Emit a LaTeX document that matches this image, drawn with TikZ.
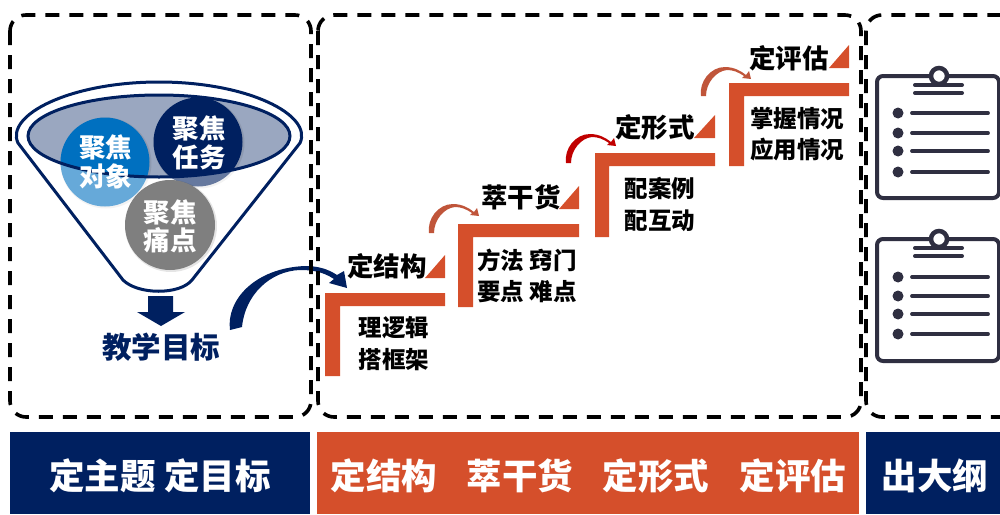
\documentclass[tikz,border=0pt]{standalone}
\usepackage{fontspec}
\setmainfont{Noto Sans CJK SC}
\definecolor{navy}{HTML}{002060}
\definecolor{rust}{HTML}{D54F2B}
\definecolor{slateink}{HTML}{2F2F41}
\definecolor{pool}{HTML}{9AA7C0}
\definecolor{skyblue}{HTML}{0070C0}
\definecolor{midgrey}{HTML}{7F7F7F}
\definecolor{softrust}{HTML}{C0553A}
\definecolor{deepred}{HTML}{C00000}
\tikzset{
  dashbox/.style={draw=black,line width=3.6pt,dash pattern=on 14pt off 10pt,rounded corners=16pt},
  bar/.style={fill=#1,draw=none},
  txt/.style={inner sep=0pt,font=\bfseries\fontsize{#1}{#1}\selectfont},
  stepcap/.style={txt=26.5,text=black},
  stepnote/.style={txt=23.5,text=black},
  bandtxt/.style={txt=35.5,text=white},
  circtxt/.style={txt=26.5,text=white},
  stair/.style={fill=rust,draw=none},
  turnarrow/.pic={
    \fill[#1] (-3,0) .. controls (-5,-14) and (6,-29) .. (21,-29)
      .. controls (30,-29) and (37,-25) .. (42,-21) -- (45,-25) -- (47,-17) -- (38,-18) -- (40,-20)
      .. controls (34,-24) and (29,-26) .. (23,-26) .. controls (12,-25) and (2,-13) .. (2,0) -- cycle;
  },
  clipboard/.pic={
    \draw[slateink,line width=4pt,rounded corners=6pt,fill=white] (0,0) rectangle (122,122);
    \draw[slateink,line width=4.5pt,fill=white] (62,0) circle (8);
    \draw[slateink,line width=4pt,line cap=round] (38,9) -- (85,9) (38,17) -- (85,17);
    \foreach \yy in {#1}{
      \fill[slateink] (21,\yy) circle (5.5);
      \draw[slateink,line width=3.8pt,line cap=round] (35,\yy) -- (111,\yy);
    }
  }
}
\begin{document}
\begin{tikzpicture}[x=1pt,y=-1pt]
\useasboundingbox (0,0) rectangle (1000,514);
\clip (0,0) rectangle (1000,514);
% funnel contents
\fill[pool] (159,136) ellipse (131 and 41);
\fill[black,opacity=.08] (106,163) circle (45.5);
\fill[skyblue] (105,162) circle (44.5);
\fill[black,opacity=.08] (199,143) circle (45.5);
\fill[navy] (198,142) circle (44.5);
\fill[white,opacity=.4,even odd rule]
  (18,143) .. controls (5,115) and (70,82) .. (159,82) .. controls (248,82) and (313,115) .. (300,143)
  -- (192,280) .. controls (180,295) and (138,295) .. (123,280) -- cycle
  (159,136) ellipse (131 and 41);
\draw[navy,line width=3pt] (159,136) ellipse (131 and 41);
\draw[navy,line width=3pt,line join=round]
  (18,143) .. controls (5,115) and (70,82) .. (159,82) .. controls (248,82) and (313,115) .. (300,143)
  -- (192,280) .. controls (180,295) and (138,295) .. (123,280) -- cycle;
\fill[black,opacity=.1] (171,226) circle (46);
\fill[midgrey] (170,225) circle (45);
\node[circtxt] (a1) at (105.5,147) {聚焦};
\node[circtxt] (a2) at (105.5,176) {对象};
\node[circtxt] (b1) at (199,128) {聚焦};
\node[circtxt] (b2) at (199,157) {任务};
\node[circtxt] (c1) at (170,212) {聚焦};
\node[circtxt] (c2) at (170,240) {痛点};
% down arrow
\fill[navy] (148,296) -- (173,296) -- (173,312) -- (185,312) -- (161,326) -- (137,312) -- (148,312) -- cycle;
\node[txt=29.5,text=navy] (goal) at (161,347) {教学目标};
% big curved arrow
\fill[navy] (230,330) .. controls (226,300) and (255,268) .. (305,266)
  .. controls (318,266) and (328,269) .. (337,275) -- (344,271) -- (347,288) -- (329,283) -- (334,279)
  .. controls (322,271) and (310,270) .. (300,270) .. controls (270,271) and (245,295) .. (242,327) -- cycle;
% dashed frames
\draw[dashbox] (10,15) rectangle (311,417);
\draw[dashbox] (318,15) rectangle (861,417);
\draw[dashbox] (866,15) rectangle (1030,417);
% stairs
\fill[stair] (325,376) -- (325,293) -- (445,293) -- (445,306) -- (340,306) -- (340,376) -- cycle;
\fill[stair] (425,278) -- (445,278) -- (445,255) -- cycle;
\fill[stair] (458,307) -- (458,224) -- (579,224) -- (579,237) -- (473,237) -- (473,307) -- cycle;
\fill[stair] (559,209) -- (579,209) -- (579,186) -- cycle;
\fill[stair] (595,237) -- (595,153) -- (715,153) -- (715,166) -- (609,166) -- (609,237) -- cycle;
\fill[stair] (694,138) -- (715,138) -- (715,115) -- cycle;
\fill[stair] (729,166) -- (729,83) -- (849,83) -- (849,96) -- (744,96) -- (744,166) -- cycle;
\fill[stair] (829,68) -- (849,68) -- (849,45) -- cycle;
% small arrows
\pic at (432,233) {turnarrow=softrust};
\pic at (569,163) {turnarrow=deepred};
\pic at (704,96) {turnarrow=softrust};
% step texts
\node[stepcap] (s1) at (387,266) {定结构};
\node[stepnote] (s1a) at (394,328) {理逻辑};
\node[stepnote] (s1b) at (394,360) {搭框架};
\node[stepcap] (s2) at (521,197) {萃干货};
\node[stepnote] (s2a) at (527,260) {方法 窍门};
\node[stepnote] (s2b) at (527,292) {要点 难点};
\node[stepcap] (s3) at (655,127) {定形式};
\node[stepnote] (s3a) at (660,188) {配案例};
\node[stepnote] (s3b) at (660,221) {配互动};
\node[stepcap] (s4) at (789,58) {定评估};
\node[stepnote] (s4a) at (797,118) {掌握情况};
\node[stepnote] (s4b) at (797,150) {应用情况};
% clipboards
\pic at (877,76) {clipboard={37,57,75,96}};
\pic at (877,239) {clipboard={38,57,75,95}};
% bottom bands
\fill[bar=navy] (10,432) rectangle (310,514);
\fill[bar=rust] (317,432) rectangle (859,514);
\fill[bar=navy] (866,432) rectangle (1000,514);
\node[bandtxt] (t1) at (160,476) {定主题 定目标};
\node[bandtxt] (t2) at (384,476) {定结构};
\node[bandtxt] (t3) at (520,476) {萃干货};
\node[bandtxt] (t4) at (656,476) {定形式};
\node[bandtxt] (t5) at (793,476) {定评估};
\node[bandtxt] (t6) at (935,476) {出大纲};
\end{tikzpicture}
\end{document}
